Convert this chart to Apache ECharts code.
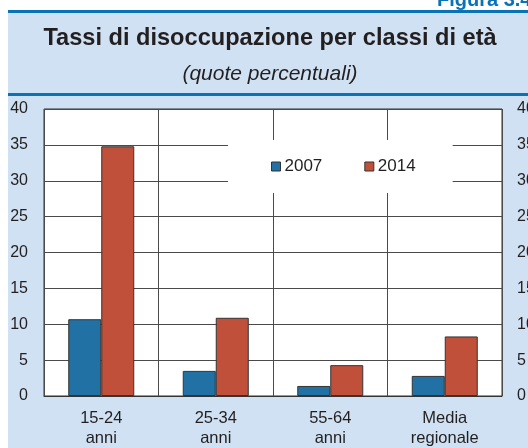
<!DOCTYPE html>
<html>
<head>
<meta charset="utf-8">
<script src="https://cdn.jsdelivr.net/npm/echarts@6/dist/echarts.min.js"></script>
<style>
  html, body { margin: 0; padding: 0; background: #fff; }
  #chart { width: 528px; height: 448px; }
</style>
</head>
<body>
<div id="chart"></div>
<script>
// classi di età
var categories = ['15-24\nanni', '25-34\nanni', '55-64\nanni', 'Media\nregionale']
var seriesNames = ['2007', '2014']
var data2007 = [10.7, 3.5, 1.4, 2.8]
var data2014 = [34.8, 10.9, 4.3, 8.3]
var yTicks = [0, 5, 10, 15, 20, 25, 30, 35, 40]

var blu = '#2171a5'
var rosso = '#c0503a'
var sfondo = '#cfe1f2'
var linea = '#0a73b7'
var font = 'Liberation Sans, Arial, sans-serif'

var yAxisBase = function(pos, margin) {
    return {
        type: 'value',
        position: pos,
        min: yTicks[0],
        max: yTicks[yTicks.length - 1],
        interval: 5,
        axisLine: { show: false },
        axisTick: { show: false },
        axisLabel: {
            margin: margin,
            color: '#231f20',
            fontSize: 16,
            fontFamily: font
        },
        splitLine: pos === 'left' ? {
            show: true,
            lineStyle: { color: '#4a4a4a', width: 1 }
        } : { show: false }
    }
}

var makeBar = function(name, values, color) {
    return {
        name: name,
        type: 'bar',
        data: values,
        barWidth: 33,
        barGap: '0%',
        itemStyle: {
            color: color,
            borderColor: '#333',
            borderWidth: 1
        }
    }
}

var option = {
    backgroundColor: sfondo,
    animation: false,
    textStyle: { fontFamily: font },
    graphic: [
        // margini bianchi
        { type: 'rect', shape: { x: 0, y: 0, width: 528, height: 10 }, style: { fill: '#fff' } },
        { type: 'rect', shape: { x: 0, y: 0, width: 8, height: 448 }, style: { fill: '#fff' } },
        // filetti blu
        { type: 'rect', shape: { x: 8, y: 10, width: 520, height: 3 }, style: { fill: linea } },
        { type: 'rect', shape: { x: 8, y: 93, width: 520, height: 3 }, style: { fill: linea } },
        {
            type: 'text', x: 437, y: 10,
            style: { text: 'Figura 3.4', fill: linea, font: 'bold 20px ' + font, verticalAlign: 'bottom' }
        },
        {
            type: 'text', x: 270, y: 38,
            style: {
                text: 'Tassi di disoccupazione per classi di età',
                fill: '#231f20', font: 'bold 23.6px ' + font,
                align: 'center', verticalAlign: 'middle'
            }
        },
        {
            type: 'text', x: 270, y: 74,
            style: {
                text: '(quote percentuali)',
                fill: '#231f20', font: 'italic 21px ' + font,
                align: 'center', verticalAlign: 'middle'
            }
        }
    ],
    grid: {
        left: 44,
        right: 26,
        top: 109,
        bottom: 52,
        outerBoundsMode: 'none',
        show: true,
        backgroundColor: '#fff',
        borderColor: '#333',
        borderWidth: 1
    },
    legend: {
        data: seriesNames,
        left: 228,
        top: 140,
        padding: [18, 37, 18, 43],
        backgroundColor: '#fff',
        itemWidth: 9,
        itemHeight: 9,
        itemGap: 42,
        icon: 'rect',
        itemStyle: { borderColor: '#333', borderWidth: 1 },
        textStyle: { color: '#231f20', fontSize: 17, fontFamily: font, padding: [0, 0, 0, -1] }
    },
    xAxis: {
        type: 'category',
        data: categories,
        axisLine: { show: true, lineStyle: { color: '#333' } },
        axisTick: { show: false },
        axisLabel: {
            margin: 12,
            color: '#231f20',
            fontSize: 16.5,
            lineHeight: 20,
            fontFamily: font
        },
        splitLine: { show: true, lineStyle: { color: '#4a4a4a', width: 1 } }
    },
    yAxis: [yAxisBase('left', 16), yAxisBase('right', 15)],
    series: [
        makeBar(seriesNames[0], data2007, blu),
        makeBar(seriesNames[1], data2014, rosso)
    ]
}

echarts.init(document.getElementById('chart')).setOption(option)
</script>
</body>
</html>
